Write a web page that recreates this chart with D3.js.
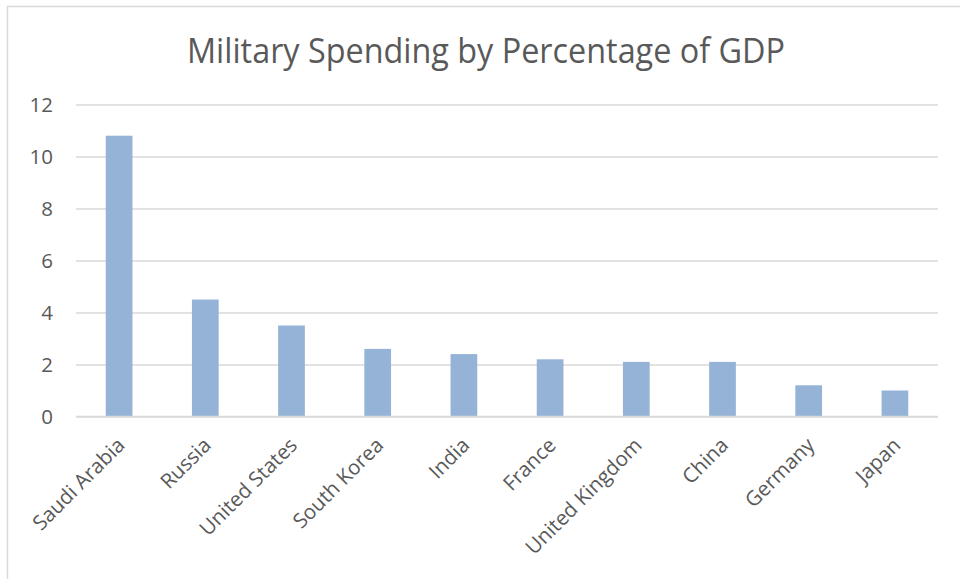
<!DOCTYPE html>
<html>
<head>
<meta charset="utf-8">
<script src="https://cdn.jsdelivr.net/npm/d3@7"></script>
<style>
  html, body { margin: 0; padding: 0; background: #fff; }
  svg { display: block; }
  text { font-family: "Open Sans", sans-serif; fill: #595959; }
</style>
</head>
<body>
<svg id="chart" width="960" height="579"></svg>
<script>
const categories = ["Saudi Arabia", "Russia", "United States", "South Korea", "India", "France", "United Kingdom", "China", "Germany", "Japan"];
const values = [10.8, 4.5, 3.5, 2.6, 2.4, 2.2, 2.1, 2.1, 1.2, 1.0];
const yTicks = [0, 2, 4, 6, 8, 10, 12];
const title = "Military Spending by Percentage of GDP";

const svg = d3.select("#chart");
const W = 960, H = 579;
const margin = { left: 76, right: 22, top: 104.5, bottom: 162.5 };
const plotW = W - margin.left - margin.right;
const plotH = H - margin.top - margin.bottom;

// outer chart border
svg.append("rect")
  .attr("x", 7.5).attr("y", 6.5)
  .attr("width", 1000).attr("height", 1000)
  .attr("fill", "none").attr("stroke", "#d9d9d9").attr("stroke-width", 1.5);

// title
svg.append("text")
  .attr("x", 486).attr("y", 63)
  .attr("text-anchor", "middle")
  .attr("font-size", 34)
  .attr("textLength", 598)
  .attr("lengthAdjust", "spacingAndGlyphs")
  .text(title);

const g = svg.append("g").attr("transform", `translate(${margin.left},${margin.top})`);

const x = d3.scaleBand().domain(categories).range([0, plotW]).paddingInner(0.69).paddingOuter(0.345);
const y = d3.scaleLinear().domain([0, 12]).range([plotH, 0]);

// gridlines
g.append("g")
  .call(d3.axisLeft(y).tickValues(yTicks).tickSize(-plotW).tickFormat(""))
  .call(s => s.select(".domain").remove())
  .call(s => s.selectAll("line").attr("stroke", "#d9d9d9").attr("stroke-width", 1.3));

// y tick labels
g.append("g")
  .call(d3.axisLeft(y).tickValues(yTicks).tickSize(0).tickPadding(23).tickFormat(d3.format("d")))
  .call(s => s.select(".domain").remove())
  .call(s => s.selectAll("text").attr("font-size", 20.5).attr("fill", "#595959").attr("font-family", "'Open Sans', sans-serif"));

// bars
g.selectAll("rect.bar").data(values).join("rect")
  .attr("class", "bar")
  .attr("x", (d, i) => x(categories[i]))
  .attr("width", x.bandwidth())
  .attr("y", d => y(d))
  .attr("height", d => y(0) - y(d))
  .attr("fill", "#95b3d7");

// baseline
g.append("line")
  .attr("x1", 0).attr("x2", plotW)
  .attr("y1", plotH).attr("y2", plotH)
  .attr("stroke", "#d9d9d9").attr("stroke-width", 1.5);

// x labels
const xb = d3.scaleBand().domain(categories).range([0, plotW]);
const xa = g.append("g").attr("transform", `translate(0,${plotH})`)
  .call(d3.axisBottom(xb).tickSize(0).tickPadding(0));
xa.select(".domain").remove();
xa.selectAll("text")
  .attr("font-size", 20.5)
  .attr("fill", "#595959")
  .attr("font-family", "'Open Sans', sans-serif")
  .attr("text-anchor", "end")
  .attr("dy", null)
  .attr("y", null)
  .attr("transform", "translate(7,30) rotate(-45)");
</script>
</body>
</html>
